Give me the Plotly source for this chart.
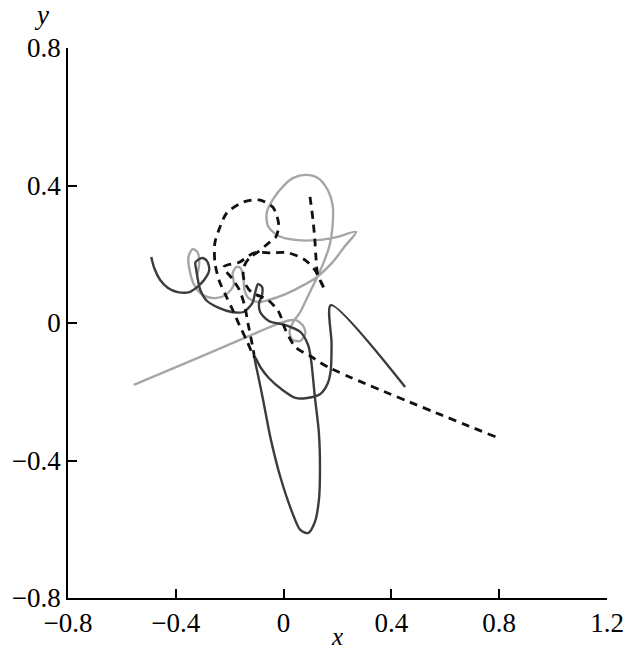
import plotly.graph_objects as go

# Dark solid trajectory
dark_x = [-0.491, -0.480, -0.458, -0.429, -0.393, -0.349, -0.320, -0.295, -0.276, -0.284, -0.302,
          -0.327, -0.324, -0.309, -0.284, -0.240, -0.193, -0.149, -0.116, -0.105, -0.095, -0.080,
          -0.080, -0.091, -0.087, -0.055, 0.007, 0.062, 0.091, 0.102, 0.116, 0.131, 0.135, 0.131,
          0.116, 0.091, 0.062, 0.033, -0.011, -0.047, -0.076, -0.095, -0.109, -0.084, -0.055,
          -0.004, 0.044, 0.087, 0.135, 0.164, 0.175, 0.178, 0.175, 0.451]
dark_y = [0.192, 0.160, 0.125, 0.102, 0.090, 0.090, 0.105, 0.125, 0.154, 0.180, 0.189,
          0.177, 0.154, 0.096, 0.064, 0.044, 0.032, 0.032, 0.058, 0.090, 0.113, 0.105,
          0.081, 0.058, 0.032, 0.006, -0.006, -0.026, -0.064, -0.108, -0.215, -0.320, -0.428, -0.515,
          -0.579, -0.611, -0.602, -0.553, -0.451, -0.340, -0.224, -0.151, -0.096, -0.131, -0.160,
          -0.195, -0.218, -0.218, -0.207, -0.175, -0.137, -0.060, 0.052, -0.186]

# Light gray solid trajectory
gray_x = [-0.556, -0.320, -0.138, 0.000, 0.044, 0.073, 0.080, 0.062, 0.033, 0.022, 0.036, 0.062,
          0.087, 0.116, 0.145, 0.171, 0.182, 0.182, 0.164, 0.127, 0.080, 0.036, 0.000, -0.036,
          -0.062, -0.058, -0.018, 0.051, 0.124, 0.196, 0.269, 0.225, 0.182, 0.124, 0.069, 0.007,
          -0.055, -0.095, -0.131, -0.145, -0.149, -0.160, -0.175, -0.189, -0.185, -0.211, -0.247,
          -0.284, -0.313, -0.335, -0.349, -0.353, -0.338, -0.320, -0.313, -0.320]
gray_y = [-0.180, -0.102, -0.041, 0.003, 0.009, -0.009, -0.032, -0.052, -0.049, -0.026, 0.003, 0.032,
          0.073, 0.119, 0.169, 0.227, 0.285, 0.343, 0.387, 0.422, 0.431, 0.422, 0.399, 0.364,
          0.323, 0.282, 0.253, 0.241, 0.241, 0.250, 0.265, 0.221, 0.177, 0.134, 0.108, 0.084,
          0.067, 0.061, 0.073, 0.096, 0.131, 0.160, 0.163, 0.145, 0.111, 0.084, 0.073,
          0.076, 0.090, 0.116, 0.154, 0.192, 0.215, 0.207, 0.177, 0.140]

# Black dashed trajectory
dash_x = [0.098, 0.109, 0.116, 0.120, 0.127, 0.153, 0.116, 0.080, 0.018, -0.047, -0.109, -0.164,
          -0.222, -0.193, -0.164, -0.145, -0.131, -0.116, -0.109, -0.138, -0.164, -0.189, -0.215,
          -0.240, -0.255, -0.255, -0.240, -0.211, -0.149, -0.091, -0.040, -0.018, -0.029, -0.055,
          -0.095, -0.127, -0.149, -0.145, -0.120, -0.058, -0.018, 0.007, 0.044, 0.105, 0.164, 0.789]
dash_y = [0.367, 0.300, 0.241, 0.192, 0.140, 0.096, 0.154, 0.183, 0.204, 0.204, 0.204, 0.177,
          0.163, 0.131, 0.096, 0.052, -0.006, -0.064, -0.099, -0.049, -0.006, 0.038, 0.081,
          0.125, 0.177, 0.233, 0.271, 0.320, 0.352, 0.358, 0.337, 0.285, 0.250, 0.233,
          0.207, 0.189, 0.160, 0.119, 0.090, 0.067, 0.032, -0.020, -0.070, -0.099, -0.128, -0.332]

tick_vals_x = [-0.8, -0.4, 0, 0.4, 0.8, 1.2]
tick_text_x = ["\u22120.8", "\u22120.4", "0", "0.4", "0.8", "1.2"]
tick_vals_y = [-0.8, -0.4, 0, 0.4, 0.8]
tick_text_y = ["\u22120.8", "\u22120.4", "0", "0.4", "0.8"]

FONT = "Liberation Serif"
FSIZE = 27

fig = go.Figure()
fig.add_trace(go.Scatter(x=gray_x, y=gray_y, mode="lines",
                         line=dict(color="#a6a6a6", width=2.4, shape="spline", smoothing=0.8),
                         showlegend=False, hoverinfo="skip"))
fig.add_trace(go.Scatter(x=dark_x, y=dark_y, mode="lines",
                         line=dict(color="#3c3c3c", width=2.4, shape="spline", smoothing=0.8),
                         showlegend=False, hoverinfo="skip"))
fig.add_trace(go.Scatter(x=dash_x, y=dash_y, mode="lines",
                         line=dict(color="#111111", width=2.8, dash="8px,6px", shape="spline", smoothing=0.8),
                         showlegend=False, hoverinfo="skip"))

axis_common = dict(showgrid=False, zeroline=False, showline=True, linecolor="black", linewidth=1.5,
                   ticks="inside", ticklen=9, tickwidth=1.5, tickcolor="black",
                   tickfont=dict(family=FONT, size=FSIZE, color="black"), mirror=False)

fig.update_layout(
    width=636, height=653,
    margin=dict(l=67, r=18, t=48, b=55),
    paper_bgcolor="white", plot_bgcolor="white",
    xaxis=dict(range=[-0.8, 1.2], tickvals=tick_vals_x, ticktext=tick_text_x, **axis_common),
    yaxis=dict(range=[-0.8, 0.8], tickvals=tick_vals_y, ticktext=tick_text_y, **axis_common),
    annotations=[
        dict(text="<i>y</i>", xref="paper", yref="paper", x=-0.049, y=1.0, yshift=33,
             xanchor="center", yanchor="middle",
             showarrow=False, font=dict(family=FONT, size=FSIZE, color="black")),
        dict(text="<i>x</i>", xref="paper", yref="paper", x=0.499, y=0, yshift=-38,
             xanchor="center", yanchor="middle",
             showarrow=False, font=dict(family=FONT, size=25, color="black")),
    ],
)

fig.write_html("out.html")
